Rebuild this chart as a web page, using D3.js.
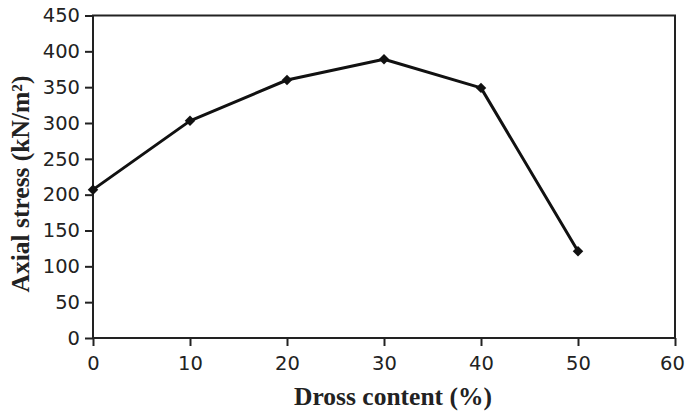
<!DOCTYPE html>
<html>
<head>
<meta charset="utf-8">
<script src="https://cdn.jsdelivr.net/npm/d3@7"></script>
<style>
  html, body { margin: 0; padding: 0; background: #fff; }
  svg { display: block; }
</style>
</head>
<body>
<svg id="chart" width="686" height="415"></svg>
<script>
// Axial stress vs. dross content
const drossContent = [0, 10, 20, 30, 40, 50];
const axialStress = [207, 303, 360, 389, 349, 121];
const xTicks = [0, 10, 20, 30, 40, 50, 60];
const yTicks = [0, 50, 100, 150, 200, 250, 300, 350, 400, 450];

const svg = d3.select("#chart");
const margin = { left: 93, right: 11, top: 15.5, bottom: 77 };
const W = 686, H = 415;

const x = d3.scaleLinear().domain([0, 60]).range([margin.left, W - margin.right]);
const y = d3.scaleLinear().domain([0, 450]).range([H - margin.bottom, margin.top]);

const tickFont = "'DejaVu Sans', Verdana, sans-serif";
const titleFont = "'Liberation Serif', 'Times New Roman', serif";

// plot frame
svg.append("rect")
  .attr("x", x(0)).attr("y", y(450))
  .attr("width", x(60) - x(0)).attr("height", y(0) - y(450))
  .attr("fill", "none").attr("stroke", "#222").attr("stroke-width", 2);

// x axis
const xAxis = svg.append("g")
  .attr("transform", `translate(0,${y(0)})`)
  .call(d3.axisBottom(x).tickValues(xTicks).tickSize(8).tickPadding(10).tickFormat(d3.format("d")));
xAxis.select(".domain").remove();
xAxis.selectAll("line").attr("stroke", "#222").attr("stroke-width", 2);
xAxis.selectAll("text").attr("font-family", tickFont).attr("font-size", 19.5).attr("fill", "#222");
// keep the last label inside the canvas edge
xAxis.selectAll("text").filter(d => d === xTicks[xTicks.length - 1]).attr("dx", -3);

// y axis
const yAxis = svg.append("g")
  .attr("transform", `translate(${x(0)},0)`)
  .call(d3.axisLeft(y).tickValues(yTicks).tickSize(8).tickPadding(5).tickFormat(d3.format("d")));
yAxis.select(".domain").remove();
yAxis.selectAll("line").attr("stroke", "#222").attr("stroke-width", 2);
yAxis.selectAll("text").attr("font-family", tickFont).attr("font-size", 19.5).attr("fill", "#222");

// data series
const pts = drossContent.map((d, i) => [d, axialStress[i]]);
svg.append("path")
  .datum(pts)
  .attr("fill", "none")
  .attr("stroke", "#111")
  .attr("stroke-width", 3)
  .attr("stroke-linejoin", "round")
  .attr("d", d3.line().x(d => x(d[0])).y(d => y(d[1])));

svg.append("g").selectAll("path")
  .data(pts)
  .join("path")
  .attr("transform", d => `translate(${x(d[0])},${y(d[1])})`)
  .attr("d", d3.symbol().type(d3.symbolDiamond2).size(70))
  .attr("fill", "#111");

// axis titles
svg.append("text")
  .attr("x", 393)
  .attr("y", 405)
  .attr("text-anchor", "middle")
  .attr("font-family", titleFont)
  .attr("font-weight", "bold")
  .attr("font-size", 25.5)
  .attr("fill", "#222")
  .text("Dross content (%)");

svg.append("text")
  .attr("transform", "translate(29,184) rotate(-90)")
  .attr("text-anchor", "middle")
  .attr("font-family", titleFont)
  .attr("font-weight", "bold")
  .attr("font-size", 25.5)
  .attr("fill", "#222")
  .text("Axial stress (kN/m²)");
</script>
</body>
</html>
